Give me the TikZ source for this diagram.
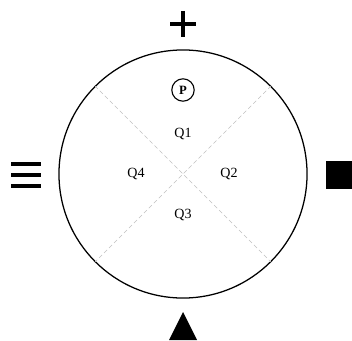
\documentclass[tikz,border=0pt]{standalone}
\usepackage{fontspec}
\setmainfont{Liberation Serif}
\usetikzlibrary{positioning}
\tikzset{
  dial/.style={draw, circle, line width=0.9pt, minimum size=6.2cm, inner sep=0pt},
  quad/.style={font=\normalsize},
  badge/.style={draw, circle, line width=0.8pt, minimum size=0.56cm, inner sep=0pt, font=\small\bfseries},
  divider/.style={draw=gray!50, densely dashed, line width=0.4pt},
  glyph/.style={line width=2.6pt},
}
\begin{document}
\begin{tikzpicture}[x=0.025cm, y=-0.025cm]
  \useasboundingbox (0,0) rectangle (352,340);
  \node[dial] (c) at (183,174) {};
  \draw[divider] (c.135) -- (c.315);
  \draw[divider] (c.45) -- (c.225);
  \node[badge] (p)  at (183,90)  {P};
  \node[quad]  (q1) at (183,134) {Q1};
  \node[quad]  (q2) at (229,174) {Q2};
  \node[quad]  (q3) at (183,215) {Q3};
  \node[quad]  (q4) at (136,174) {Q4};
  % markers round the dial
  \draw[glyph] (170,24) -- (196,24) (183,11) -- (183,37);
  \draw[line width=2.4pt] (11,164) -- (41,164) (11,175) -- (41,175) (11,186) -- (41,186);
  \fill (326,161) rectangle (352,189);
  \fill (183,312) -- (197,340) -- (169,340) -- cycle;
\end{tikzpicture}
\end{document}
